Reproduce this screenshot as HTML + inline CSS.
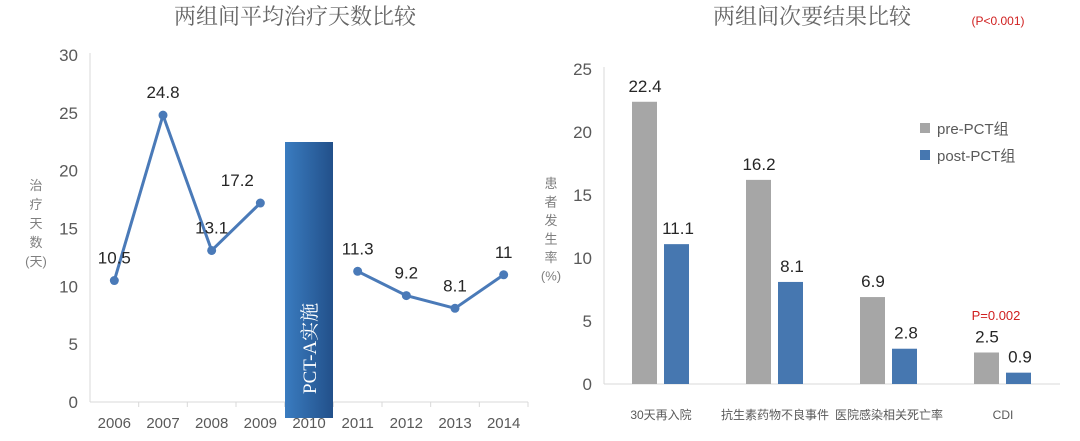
<!DOCTYPE html>
<html><head><meta charset="utf-8"><style>
html,body{margin:0;padding:0;background:#fff;}
svg text{font-family:"Liberation Sans","DejaVu Sans","Noto Sans CJK SC",sans-serif;}
.t{font-family:"Liberation Serif","Noto Serif CJK SC",serif !important;}
</style></head><body>
<svg id="c" width="1080" height="436" viewBox="0 0 1080 436" xmlns="http://www.w3.org/2000/svg">
<defs>
<linearGradient id="g" x1="0" x2="1" y1="0" y2="0"><stop offset="0" stop-color="#3a7cc0"/><stop offset="1" stop-color="#22508a"/></linearGradient>
</defs>
<text class="t" x="295" y="24" font-size="22" fill="#666" text-anchor="middle">两组间平均治疗天数比较</text>
<text class="t" x="812" y="24" font-size="22" fill="#666" text-anchor="middle">两组间次要结果比较</text>
<text x="998" y="25" font-size="12" fill="#d02020" text-anchor="middle">(P&lt;0.001)</text>
<g id="left"></g>
<g id="right"></g>
</svg>
<script>
const years = ['2006','2007','2008','2009','2010','2011','2012','2013','2014'];
const days = [10.5,24.8,13.1,17.2,null,11.3,9.2,8.1,11];
const leftTicks = [0,5,10,15,20,25,30];
const categories = ['30天再入院','抗生素药物不良事件','医院感染相关死亡率','CDI'];
const preValues = [22.4,16.2,6.9,2.5];
const postValues = [11.1,8.1,2.8,0.9];
const rightTicks = [0,5,10,15,20,25];

const NS='http://www.w3.org/2000/svg';
function mk(parent,tag,attrs,text){const e=document.createElementNS(NS,tag);for(const k in attrs)e.setAttribute(k,attrs[k]);if(text!==undefined)e.textContent=text;parent.appendChild(e);return e;}

// LEFT
const L=document.getElementById('left');
const lx0=90,lx1=528,ly0=402,ly1=55,lmax=30;
const ly=v=>ly0-(v/lmax)*(ly0-ly1);
const step=(lx1-lx0)/years.length;
const lx=i=>lx0+step*(i+0.5);
let e;
e=mk(L,'line',{x1:lx0,y1:ly1-2,x2:lx0,y2:ly0,stroke:'#d9d9d9','stroke-width':1});


e=mk(L,'line',{x1:lx0,y1:ly0,x2:lx1,y2:ly0,stroke:'#d9d9d9','stroke-width':1});


leftTicks.forEach(t=>{
 e=mk(L,'text',{x:78,y:ly(t)+6,'font-size':17,fill:'#595959','text-anchor':'end'},String(t));
 
 
});
years.forEach((y,i)=>{
 e=mk(L,'line',{x1:lx0+step*(i+1),y1:ly0,x2:lx0+step*(i+1),y2:ly0+5,stroke:'#d9d9d9'});
 
 
 e=mk(L,'text',{x:lx(i),y:428,'font-size':15,fill:'#595959','text-anchor':'middle'},y);
 
 
});
const yt=['治','疗','天','数','(天)'];
yt.forEach((c,i)=>{
 e=mk(L,'text',{x:36,y:190+i*19,'font-size':13,fill:'#7f7f7f','text-anchor':'middle'},c);
 
 
});
// PCT bar
e=mk(L,'rect',{x:lx(4)-24,y:142,width:48,height:276,fill:'url(#g)'});


e=mk(L,'text',{x:0,y:0,'font-size':19,fill:'#fff',transform:`translate(${lx(4)+7},394) rotate(-90)`,class:'t'},'PCT-A实施');


// segments
let seg=[];const segs=[];
days.forEach((v,i)=>{if(v===null){if(seg.length)segs.push(seg);seg=[];}else seg.push([lx(i),ly(v)]);});
if(seg.length)segs.push(seg);
segs.forEach(s=>{
 e=mk(L,'polyline',{points:s.map(p=>p.join(',')).join(' '),fill:'none',stroke:'#4a7ab8','stroke-width':3,'stroke-linejoin':'round'});
 
 
});
const lblDx=[0,0,0,-23,0,0,0,0,0];
days.forEach((v,i)=>{
 if(v===null)return;
 e=mk(L,'circle',{cx:lx(i),cy:ly(v),r:4.5,fill:'#4a7ab8'});
 
 
 e=mk(L,'text',{x:lx(i)+lblDx[i],y:ly(v)-17,'font-size':17,fill:'#262626','text-anchor':'middle'},String(v));
 
 
});

// RIGHT
const R=document.getElementById('right');
const rx0=604,rx1=1060,ry0=384,ry1=69,rmax=25;
const ry=v=>ry0-(v/rmax)*(ry0-ry1);
const gstep=(rx1-rx0)/categories.length;
e=mk(R,'line',{x1:rx0,y1:ry1-2,x2:rx0,y2:ry0,stroke:'#d9d9d9'});


e=mk(R,'line',{x1:rx0,y1:ry0,x2:rx1,y2:ry0,stroke:'#d9d9d9'});


rightTicks.forEach(t=>{
 e=mk(R,'text',{x:592,y:ry(t)+6,'font-size':17,fill:'#595959','text-anchor':'end'},String(t));
 
 
});
['患','者','发','生','率','(%)'].forEach((c,i)=>{
 e=mk(R,'text',{x:551,y:188+i*18.5,'font-size':13,fill:'#7f7f7f','text-anchor':'middle'},c);
 
 
});
categories.forEach((c,i)=>{
 const gx=rx0+gstep*i;
 const bw=25;
 const a=preValues[i],b=postValues[i];
 e=mk(R,'rect',{x:gx+28,y:ry(a),width:bw,height:ry0-ry(a),fill:'#a6a6a6'});
 
 
 e=mk(R,'rect',{x:gx+60,y:ry(b),width:bw,height:ry0-ry(b),fill:'#4677b0'});
 
 
 e=mk(R,'text',{x:gx+41,y:ry(a)-10,'font-size':17,fill:'#262626','text-anchor':'middle'},String(a));
 
 
 e=mk(R,'text',{x:gx+74,y:ry(b)-10,'font-size':17,fill:'#262626','text-anchor':'middle'},String(b));
 
 
 e=mk(R,'text',{x:gx+gstep/2,y:419,'font-size':12,fill:'#595959','text-anchor':'middle'},c);
 
 
});
e=mk(R,'text',{x:996,y:320,'font-size':13,fill:'#d02020','text-anchor':'middle'},'P=0.002');


e=mk(R,'rect',{x:920,y:123,width:10,height:10,fill:'#a6a6a6'});


e=mk(R,'text',{x:937,y:134,'font-size':15,fill:'#595959'},'pre-PCT组');


e=mk(R,'rect',{x:920,y:150,width:10,height:10,fill:'#4677b0'});


e=mk(R,'text',{x:937,y:161,'font-size':15,fill:'#595959'},'post-PCT组');


</script>
</body></html>
